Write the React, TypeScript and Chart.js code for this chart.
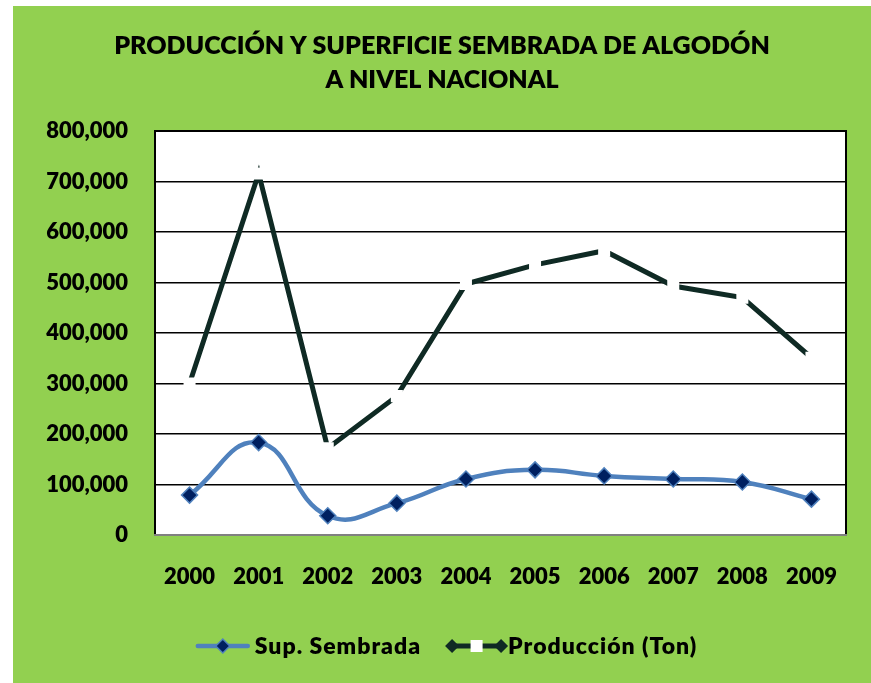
import React, { useEffect, useRef } from "react";
import { Chart, registerables } from "chart.js";

Chart.register(...registerables);

const years: string[] = ["2000", "2001", "2002", "2003", "2004", "2005", "2006", "2007", "2008", "2009"];
const supSembrada: number[] = [79000, 183000, 38000, 63000, 111000, 129000, 117000, 111000, 105000, 71000];
const produccion: number[] = [300000, 716000, 172000, 275000, 497000, 535000, 563000, 493000, 470000, 351000];
const seriesNames: string[] = ["Sup. Sembrada", "Producción (Ton)"];
const titleLines: string[] = ["PRODUCCIÓN Y SUPERFICIE SEMBRADA DE ALGODÓN", "A NIVEL NACIONAL"];
const yMax = 800000;
const yStep = 100000;

const FONT = "Lato, 'Open Sans', sans-serif";
const WEIGHT = "800";
const BLUE = "#4F81BD";
const NAVY = "#002060";
const DARK = "#0F2A24";
const GREEN = "#92D050";
const TEXT = "#000000";

const plotFramePlugin = {
  id: "plotFrame",
  beforeDraw(chart: any) {
    const { ctx, chartArea: a } = chart;
    ctx.save();
    ctx.fillStyle = "#FFFFFF";
    ctx.fillRect(a.left, a.top, a.right - a.left, a.bottom - a.top);
    ctx.restore();
  },
  beforeDatasetsDraw(chart: any) {
    const { ctx, chartArea: a } = chart;
    ctx.save();
    ctx.strokeStyle = "#000000";
    ctx.lineWidth = 2;
    ctx.strokeRect(a.left, a.top, a.right - a.left, a.bottom - a.top);
    ctx.strokeStyle = "#808080";
    ctx.beginPath();
    ctx.moveTo(a.left - 1, a.bottom);
    ctx.lineTo(a.right + 1, a.bottom);
    ctx.stroke();
    ctx.restore();
  },
};

const legendPlugin = {
  id: "customLegend",
  afterDraw(chart: any) {
    const { ctx } = chart;
    ctx.save();
    ctx.font = `${WEIGHT} 23px ${FONT}`;
    try {
      (ctx as any).letterSpacing = "1px";
    } catch (e) {
      /* ignore */
    }
    ctx.textBaseline = "middle";
    ctx.textAlign = "left";
    const w1 = ctx.measureText(seriesNames[0]).width;
    const w2 = ctx.measureText(seriesNames[1]).width;
    const total = 59 + w1 + 24 + 63 + w2;
    const cy = chart.height - 37;
    let x = 433.5 - total / 2;

    // item 1
    ctx.strokeStyle = BLUE;
    ctx.lineWidth = 4.5;
    ctx.lineCap = "round";
    ctx.beginPath();
    ctx.moveTo(x + 2, cy);
    ctx.lineTo(x + 52, cy);
    ctx.stroke();
    const dcx = x + 27;
    ctx.beginPath();
    ctx.moveTo(dcx - 7, cy);
    ctx.lineTo(dcx, cy - 7);
    ctx.lineTo(dcx + 7, cy);
    ctx.lineTo(dcx, cy + 7);
    ctx.closePath();
    ctx.fillStyle = NAVY;
    ctx.fill();
    ctx.lineWidth = 1.5;
    ctx.strokeStyle = BLUE;
    ctx.stroke();
    ctx.fillStyle = TEXT;
    ctx.fillText(seriesNames[0], x + 59, cy + 1);

    // item 2
    x = x + 59 + w1 + 24;
    ctx.strokeStyle = DARK;
    ctx.lineWidth = 5;
    ctx.lineCap = "butt";
    ctx.beginPath();
    ctx.moveTo(x + 7, cy);
    ctx.lineTo(x + 56, cy);
    ctx.stroke();
    ctx.fillStyle = DARK;
    for (const c of [x + 7, x + 56]) {
      ctx.beginPath();
      ctx.moveTo(c - 7, cy);
      ctx.lineTo(c, cy - 7);
      ctx.lineTo(c + 7, cy);
      ctx.lineTo(c, cy + 7);
      ctx.closePath();
      ctx.fill();
    }
    ctx.fillStyle = "#FFFFFF";
    ctx.fillRect(x + 31.5 - 6, cy - 6, 12, 12);
    ctx.fillStyle = TEXT;
    ctx.fillText(seriesNames[1], x + 63, cy + 1);
    ctx.restore();
  },
};

export default function App() {
  const canvasRef = useRef<HTMLCanvasElement | null>(null);

  useEffect(() => {
    if (!canvasRef.current) return;
    const chart = new Chart(canvasRef.current, {
      type: "line",
      data: {
        labels: years,
        datasets: [
          {
            label: seriesNames[0],
            data: supSembrada,
            borderColor: BLUE,
            borderWidth: 4.5,
            tension: 0.45,
            pointStyle: "rectRot",
            pointRadius: 8,
            pointBackgroundColor: NAVY,
            pointBorderColor: BLUE,
            pointBorderWidth: 1.5,
          },
          {
            label: seriesNames[1],
            data: produccion,
            borderColor: DARK,
            borderWidth: 5,
            tension: 0,
            pointStyle: "rect",
            pointRadius: 8.5,
            pointBackgroundColor: "#FFFFFF",
            pointBorderColor: "#FFFFFF",
            pointBorderWidth: 0,
          },
        ],
      },
      options: {
        animation: false,
        responsive: false,
        maintainAspectRatio: false,
        layout: { padding: { left: 25, right: 25, top: 0, bottom: 78 } },
        plugins: {
          legend: { display: false },
          tooltip: { enabled: false },
          title: {
            display: true,
            text: titleLines,
            color: TEXT,
            font: { family: FONT, size: 25, weight: WEIGHT, lineHeight: 1.36 },
            padding: { top: 23, bottom: 34 },
          },
        },
        scales: {
          x: {
            offset: true,
            grid: { display: false, drawTicks: false },
            border: { display: false },
            ticks: {
              color: TEXT,
              padding: 29,
              maxRotation: 0,
              font: { family: FONT, size: 22, weight: WEIGHT },
            },
            afterFit(scale: any) {
              scale.height = 70;
            },
          },
          y: {
            min: 0,
            max: yMax,
            grid: { color: "#000000", lineWidth: 1.5, drawTicks: false },
            border: { display: false },
            ticks: {
              stepSize: yStep,
              color: TEXT,
              padding: 27,
              font: { family: FONT, size: 22, weight: WEIGHT },
              callback: (v: any) => Number(v).toLocaleString("en-US"),
            },
            afterFit(scale: any) {
              scale.width = 117;
            },
          },
        },
      },
      plugins: [plotFramePlugin, legendPlugin],
    });
    return () => chart.destroy();
  }, []);

  return (
    <div
      style={{
        position: "absolute",
        left: 13,
        top: 6,
        width: 858,
        height: 677,
        background: GREEN,
      }}
    >
      <canvas ref={canvasRef} width={858} height={677} style={{ display: "block" }} />
    </div>
  );
}
